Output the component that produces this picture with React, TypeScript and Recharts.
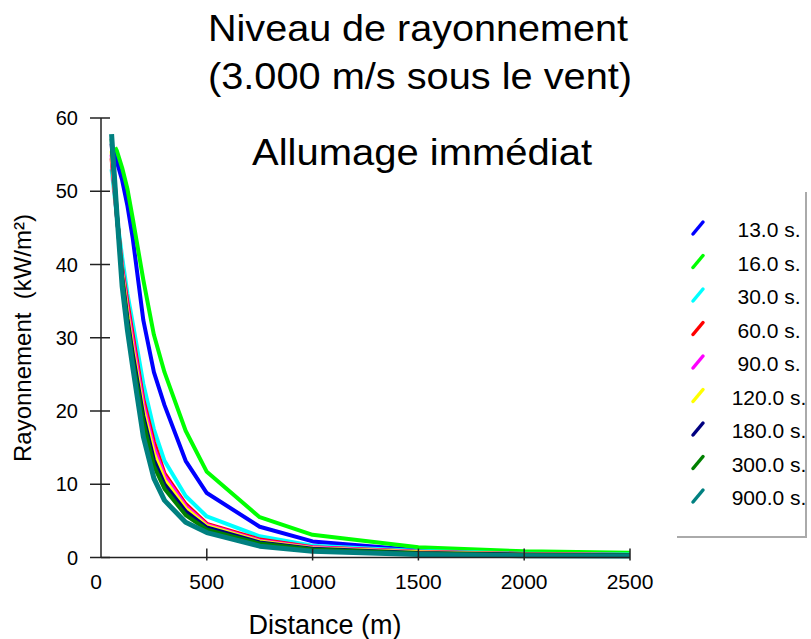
import React from "react";
import { LineChart, Line, XAxis, YAxis } from "recharts";

// distances (m) shared by every series after its own first point
const distances = [75, 100, 125, 150, 200, 250, 300, 400, 500, 750, 1000, 1500, 2000, 2500];

const seriesNames = ["13.0 s.", "16.0 s.", "30.0 s.", "60.0 s.", "90.0 s.", "120.0 s.", "180.0 s.", "300.0 s.", "900.0 s."];
const seriesColors = ["#0000ff", "#00ff00", "#00ffff", "#ff0000", "#ff00ff", "#ffff00", "#000080", "#008000", "#008080"];

// first point of each curve (distance, level)
const startDistance = [60, 67, 50, 50, 50, 50, 50, 50, 50];
const startLevel = [55.4, 56, 53, 54.5, 55, 55.5, 56.5, 57.2, 57.8];

const level13 = [54, 51.5, 48, 43.6, 32.4, 25.3, 20.8, 13.2, 8.8, 4.2, 2.2, 1.0, 0.6, 0.45];
const level16 = [55.5, 53.2, 50.3, 46.3, 37.9, 30.4, 25.3, 17.3, 11.7, 5.5, 3.1, 1.4, 0.85, 0.65];
const level30 = [46.5, 41, 36, 32, 23.7, 17.5, 13.2, 8.4, 5.6, 2.9, 1.6, 0.9, 0.52, 0.4];
const level60 = [46.5, 39.5, 34.8, 30.4, 21.6, 15.8, 11.5, 7.3, 4.6, 2.45, 1.4, 0.8, 0.48, 0.35];
const level90 = [46.6, 39.1, 34, 29.5, 20.9, 15, 11.1, 7.0, 4.45, 2.3, 1.35, 0.75, 0.45, 0.33];
const level120 = [46.7, 38.7, 33.3, 28.6, 20.1, 14.2, 10.6, 6.7, 4.3, 2.2, 1.28, 0.7, 0.43, 0.32];
const level180 = [46.8, 38.3, 32.6, 27.8, 19.3, 13.3, 10.0, 6.3, 4.1, 2.05, 1.2, 0.6, 0.4, 0.3];
const level300 = [47, 38, 32, 27, 18.5, 12.5, 9.4, 5.8, 3.8, 1.9, 1.1, 0.55, 0.35, 0.28];
const level900 = [47, 37, 31, 26, 16.5, 10.8, 7.8, 4.8, 3.4, 1.55, 0.86, 0.4, 0.25, 0.2];

const levels = [level13, level16, level30, level60, level90, level120, level180, level300, level900];

const xTicks = [0, 500, 1000, 1500, 2000, 2500];
const yTicks = [0, 10, 20, 30, 40, 50, 60];

const FONT = "'Liberation Sans', Arial, sans-serif";

const seriesData = levels.map((vals, i) => [
  { d: startDistance[i], v: startLevel[i] },
  ...distances.map((d, j) => ({ d, v: vals[j] })),
]);

const YTick = (props: any) => {
  const { x, y, payload } = props;
  return (
    <g>
      <line x1={x - 11} x2={x + 9} y1={y} y2={y} stroke="#222" strokeWidth={1.5} />
      <text x={x - 23} y={y} dy="0.36em" textAnchor="end" fontSize={20} fontFamily={FONT} fill="#000">
        {payload.value}
      </text>
    </g>
  );
};

const XTick = (props: any) => {
  const { x, y, payload } = props;
  return (
    <g>
      {payload.value !== 0 && (
        <line x1={x} x2={x} y1={y - 9} y2={y + 3} stroke="#222" strokeWidth={1.5} />
      )}
      <text x={payload.value === 0 ? x - 5 : x} y={y + 31} textAnchor="middle" fontSize={21} fontFamily={FONT} fill="#000">
        {payload.value}
      </text>
    </g>
  );
};

export default function App() {
  return (
    <div style={{ position: "absolute", left: 0, top: 0, width: 811, height: 639, background: "#fff", overflow: "hidden" }}>
      <LineChart width={811} height={639} margin={{ top: 118, right: 181, bottom: 80.5, left: 100 }}>
        <XAxis
          type="number"
          dataKey="d"
          domain={[0, 2500]}
          ticks={xTicks}
          height={1}
          tickSize={0}
          tickMargin={0}
          tickLine={false}
          axisLine={{ stroke: "#222", strokeWidth: 1.5 }}
          tick={<XTick />}
          interval={0}
          allowDataOverflow
        />
        <YAxis
          type="number"
          domain={[0, 60]}
          ticks={yTicks}
          width={1}
          tickSize={0}
          tickMargin={0}
          tickLine={false}
          axisLine={{ stroke: "#222", strokeWidth: 1.5 }}
          tick={<YTick />}
          interval={0}
        />
        {seriesData.map((data, i) => (
          <Line
            key={seriesNames[i]}
            data={data}
            dataKey="v"
            type="linear"
            stroke={seriesColors[i]}
            strokeWidth={i === 8 ? 5 : 4}
            strokeLinejoin="round"
            dot={false}
            activeDot={false}
            isAnimationActive={false}
          />
        ))}
      </LineChart>

      <svg width={811} height={639} style={{ position: "absolute", left: 0, top: 0, pointerEvents: "none" }}>
        <g fontFamily={FONT} fill="#000">
          <text x={418} y={41} textAnchor="middle" fontSize={37} textLength={420} lengthAdjust="spacingAndGlyphs">
            Niveau de rayonnement
          </text>
          <text x={420} y={89} textAnchor="middle" fontSize={37} textLength={424} lengthAdjust="spacingAndGlyphs">
            (3.000 m/s sous le vent)
          </text>
          <text x={422} y={165} textAnchor="middle" fontSize={36} textLength={340} lengthAdjust="spacingAndGlyphs">
            Allumage immédiat
          </text>
          <text x={325} y={634} textAnchor="middle" fontSize={27}>
            Distance (m)
          </text>
          <text
            x={0}
            y={0}
            textAnchor="middle"
            fontSize={24}
            transform="translate(31 338) rotate(-90)"
            style={{ whiteSpace: "pre" }}
          >
            {"Rayonnement  (kW/m²)"}
          </text>
        </g>
      </svg>

      <div
        style={{
          position: "absolute",
          left: 677,
          top: 192,
          width: 128,
          height: 344,
          borderRight: "2px solid #aaa",
          borderBottom: "2px solid #aaa",
          overflow: "hidden",
        }}
      >
        <svg width={128} height={344}>
          {seriesNames.map((name, i) => {
            const base = 45 + i * 33.5;
            return (
              <g key={name}>
                <line
                  x1={16}
                  y1={base - 3}
                  x2={26}
                  y2={base - 15}
                  stroke={seriesColors[i]}
                  strokeWidth={3.5}
                  strokeLinecap="round"
                />
                <text x={92} y={base} textAnchor="middle" fontSize={21} fontFamily={FONT} fill="#000">
                  {name}
                </text>
              </g>
            );
          })}
        </svg>
      </div>
    </div>
  );
}
